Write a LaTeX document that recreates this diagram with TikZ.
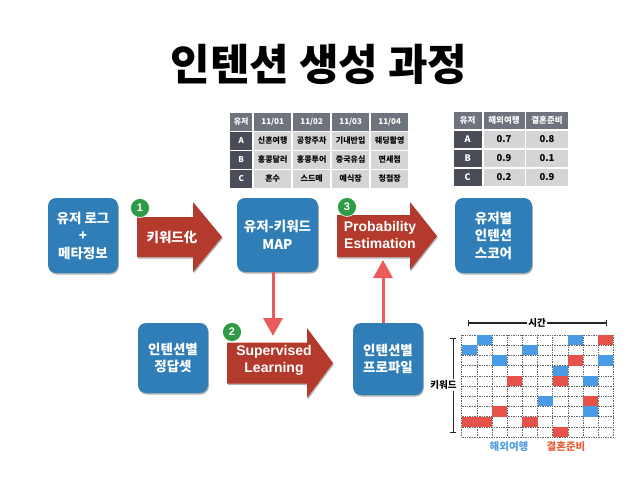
\documentclass[tikz,border=0pt]{standalone}
\usepackage{fontspec}
\setmainfont{Liberation Sans}
\newfontfamily\kr{Noto Sans CJK KR}
\usetikzlibrary{shadows,arrows.meta}
\definecolor{boxblue}{HTML}{2F7EB8}
\definecolor{arrred}{HTML}{B33A2C}
\definecolor{numgreen}{HTML}{2F9B47}
\definecolor{sketchred}{HTML}{EC5B5B}
\definecolor{hdrgray}{HTML}{6F737E}
\definecolor{rowgray}{HTML}{4A4D57}
\definecolor{cellgray}{HTML}{D5D5D5}
\definecolor{cellblue}{HTML}{4A9BE6}
\definecolor{cellred}{HTML}{E5524A}
\definecolor{legblue}{HTML}{4F9FE0}
\definecolor{legred}{HTML}{E8603C}
\newcommand\arrowpath[6]{(#1,#4-#5) -- (#2,#4-#5) -- (#2,#4-#6) -- (#3,#4) -- (#2,#4+#6) -- (#2,#4+#5) -- (#1,#4+#5) -- cycle}
\begin{document}
\begin{tikzpicture}[x=1pt,y=-1pt,
  shad/.style={drop shadow={shadow xshift=0.8pt,shadow yshift=-1.5pt,opacity=0.3,fill=black}},
  bluebox/.style={rounded corners=8pt,fill=boxblue,text=white,align=center,inner sep=0pt,shad,
    font={\kr\bfseries\fontsize{13.5}{17.5}\selectfont}},
  arrtext/.style={text=white,align=center,inner sep=0pt},
  numc/.style={circle,fill=numgreen,draw=white,line width=0.6pt,minimum size=19pt,inner sep=0pt,
    text=white,font={\bfseries\fontsize{11}{11}\selectfont}},
  sketch/.style={draw=sketchred,line width=3pt,-{Triangle[width=19pt,length=18pt]}},
  tcellsty/.style={inner sep=0pt,minimum height=17.5pt,font={\kr\bfseries\fontsize{8}{8.5}\selectfont}},
  gridline/.style={draw=black!60,line width=0.5pt,dash pattern=on 0.8pt off 0.9pt},
  axis/.style={draw=black!85,line width=1.1pt,{Bar[width=6pt]}-{Bar[width=6pt]}},
  axlabel/.style={fill=white,inner sep=1.5pt,font={\kr\bfseries\fontsize{9.5}{10}\selectfont}}
]
\useasboundingbox (0,0) rectangle (638,479);
\fill[white] (0,0) rectangle (638,479);

% title
\node[font={\kr\bfseries\fontsize{43}{46}\selectfont}] (title) at (319,64) {인텐션 생성 과정};

% blue boxes
\node[bluebox,minimum width=70pt,minimum height=75pt] (b1) at (83,235.5) {유저 로그\\+\\메타정보};
\node[bluebox,minimum width=81pt,minimum height=74pt] (b2) at (277.5,235) {유저-키워드\\MAP};
\node[bluebox,minimum width=77pt,minimum height=75pt] (b3) at (493.5,235.5) {유저별\\인텐션\\스코어};
\node[bluebox,minimum width=70pt,minimum height=70pt] (b4) at (173,358) {인텐션별\\정답셋};
\node[bluebox,minimum width=70pt,minimum height=72pt] (b5) at (388,359) {인텐션별\\프로파일};

% block arrows
\fill[arrred,shad] \arrowpath{137}{193}{222}{237}{20}{35};
\fill[arrred,shad] \arrowpath{337}{410}{437}{236}{21}{34};
\fill[arrred,shad] \arrowpath{227}{307}{333}{363}{20.5}{35};
\node[arrtext,font={\kr\bfseries\fontsize{13.5}{17}\selectfont}] (a1) at (172,237) {키워드化};
\node[arrtext,font={\bfseries\fontsize{14}{16.5}\selectfont}] (a3) at (380,235) {Probability\\Estimation};
\node[arrtext,font={\bfseries\fontsize{14}{17}\selectfont}] (a2) at (274,360.5) {Supervised\\Learning};

% number circles
\node[numc] (n1) at (140,208) {1};
\node[numc] (n3) at (347,207) {3};
\node[numc] (n2) at (232,332) {2};

% sketched connectors
\coordinate (t2) at (273,336);
\coordinate (t3) at (383,260);
\draw[sketch] ([xshift=-4.5pt]b2.south) -- (t2);
\draw[sketch] ([xshift=-5pt]b5.north) -- (t3);

% table 1
\foreach \rowlist [count=\rr from 0] in {
  {유저,{11/01},{11/02},{11/03},{11/04}},
  {A,신혼여행,공항주차,기내반입,웨딩촬영},
  {B,홍콩달러,홍콩투어,중국유심,면세점},
  {C,혼수,스드메,예식장,청첩장}}{
  \foreach \txt [count=\cc from 0] in \rowlist {
    \pgfmathsetmacro\cx{{230,254,293,332,371}[\cc]}
    \pgfmathsetmacro\cw{{22,37,37,37,37}[\cc]}
    \pgfmathsetmacro\ry{113+19*\rr}
    \ifnum\rr=0 \def\fc{hdrgray}\def\tc{white}\else
      \ifnum\cc=0 \def\fc{rowgray}\def\tc{white}\else\def\fc{cellgray}\def\tc{black}\fi\fi
    \node[tcellsty,fill=\fc,text=\tc,minimum width=\cw pt,anchor=north west] (ta-\rr-\cc) at (\cx,\ry) {\txt};
  }
}

% table 2
\foreach \rowlist [count=\rr from 0] in {
  {유저,해외여행,결혼준비},
  {A,0.7,0.8},
  {B,0.9,0.1},
  {C,0.2,0.9}}{
  \foreach \txt [count=\cc from 0] in \rowlist {
    \pgfmathsetmacro\cx{{453.3,483.3,526}[\cc]}
    \pgfmathsetmacro\cw{{28.4,41,41.7}[\cc]}
    \pgfmathsetmacro\ry{111.7+18.9*\rr}
    \ifnum\rr=0 \def\fc{hdrgray}\def\tc{white}\def\fs{8.5}\else
      \ifnum\cc=0 \def\fc{rowgray}\def\tc{white}\def\fs{9}\else\def\fc{cellgray}\def\tc{black}\def\fs{9.5}\fi\fi
    \node[tcellsty,fill=\fc,text=\tc,minimum width=\cw pt,anchor=north west,
      font={\kr\bfseries\fontsize{\fs}{9}\selectfont}] (tb-\rr-\cc) at (\cx,\ry) {\txt};
  }
}

% grid
\foreach \gi in {0,...,10}{
  \draw[gridline] (461.7+\gi*15.17,335) -- (461.7+\gi*15.17,437);
  \draw[gridline] (461.7,335+\gi*10.2) -- (613.4,335+\gi*10.2);
}
\foreach \gr/\gc/\col in {0/1/cellblue,0/7/cellblue,0/9/cellred,1/0/cellblue,1/4/cellblue,
  2/2/cellblue,2/7/cellred,2/9/cellblue,3/6/cellblue,4/3/cellred,4/6/cellred,4/8/cellblue,
  6/5/cellblue,6/8/cellred,7/2/cellred,7/8/cellblue,8/0/cellred,8/1/cellred,8/4/cellred,9/6/cellred}{
  \fill[\col] (461.7+\gc*15.17,335+\gr*10.2) rectangle ++(15.17,10.2);
}

% axes
\coordinate (xa) at (468,323);
\coordinate (xb) at (607,323);
\draw[axis] (xa) -- (xb);
\node[axlabel] (time) at (537,323) {시간};
\coordinate (ya) at (453.3,338);
\coordinate (yb) at (453.3,433);
\draw[axis] (ya) -- (yb);
\node[axlabel] (kw) at (443.5,385) {키워드};

% legend
\node[text=legblue,font={\kr\bfseries\fontsize{10.5}{11}\selectfont}] (lg1) at (509,447) {해외여행};
\node[text=legred,font={\kr\bfseries\fontsize{10.5}{11}\selectfont}] (lg2) at (566,447) {결혼준비};
\end{tikzpicture}
\end{document}
